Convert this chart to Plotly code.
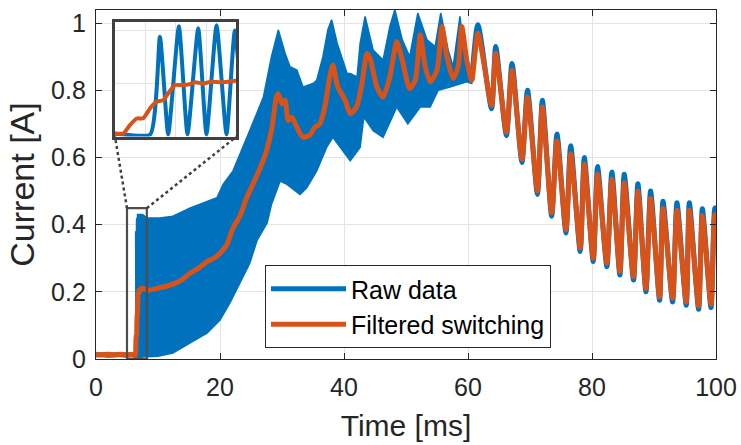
import plotly.graph_objects as go

# ---------------- data ----------------
# Raw data: pre-switching level
raw_pre_t = [0, 1, 2, 3, 4, 5, 6, 6.3, 6.59]
raw_pre_v = [0.012, 0.013, 0.011, 0.012, 0.013, 0.011, 0.012, 0.010, 0.008]

# Raw data: first switching cycles (visible in the inset)
raw_osc_t = [6.67, 6.738, 6.826, 6.897, 6.985, 7.053, 7.136, 7.218, 7.286, 7.36]
raw_osc_v = [0.376, 0.008, 0.416, 0.008, 0.408, 0.008, 0.42, 0.008, 0.40, 0.008]

# Raw data: envelope of the dense switching band
raw_up_t = [6.62, 6.7, 7.5, 8.2, 10.3, 12.4, 15.2, 17.9, 19.5, 20.5, 22.1, 24.8, 27.0,
            28.3, 29.4, 30.5, 31.3, 32.4, 33.4, 35.0, 35.6, 36.6, 37.4, 38.0, 38.9,
            40.5, 41.0, 42.1, 42.6, 43.4, 44.7, 46.3, 47.4, 48.2, 49.4, 50.6, 51.9,
            53.4, 54.7, 55.6, 56.8, 57.6, 58.7, 59.5, 60.3, 61.6]
raw_up_v = [0.10, 0.43, 0.43, 0.42, 0.42, 0.425, 0.45, 0.47, 0.48, 0.52, 0.56, 0.68, 0.78,
            0.90, 0.98, 0.91, 0.87, 0.86, 0.81, 0.82, 0.83, 0.90, 0.98, 1.01, 0.94,
            0.85, 0.85, 0.84, 0.94, 1.02, 0.92, 0.89, 0.99, 1.04, 0.95, 0.90, 1.03,
            0.95, 0.93, 1.03, 0.92, 0.87, 1.02, 0.90, 0.84, 0.99]
raw_lo_t = [6.62, 8.2, 10.0, 12.4, 15.2, 17.9, 20.0, 21.6, 23.2, 24.8, 26.0, 27.6, 28.3,
            29.7, 30.8, 32.9, 34.0, 35.6, 37.2, 38.2, 39.4, 41.0, 42.6, 43.2, 44.7,
            46.3, 48.5, 50.3, 52.3, 53.9, 55.2, 57.1, 59.8, 60.6, 61.6]
raw_lo_v = [0.005, 0.006, 0.008, 0.018, 0.048, 0.077, 0.116, 0.167, 0.226, 0.285, 0.354,
            0.405, 0.46, 0.53, 0.52, 0.49, 0.51, 0.56, 0.63, 0.66, 0.63, 0.59, 0.63,
            0.72, 0.68, 0.66, 0.75, 0.70, 0.75, 0.75, 0.80, 0.81, 0.825, 0.82, 0.95]

# Raw data: slow oscillation at the end (peaks and troughs)
raw_tail_t = [60.6, 61.6, 63.8, 64.47, 66.2, 67.1, 68.7, 69.6, 71.2, 71.99, 73.5, 74.35,
              75.8, 76.56, 78.1, 78.76, 80.2, 80.9, 82.4, 83.2, 84.5, 85.2, 86.7, 87.4,
              88.7, 89.45, 90.9, 91.45, 93.0, 93.7, 95.2, 95.7, 97.2, 97.8, 99.2, 99.8, 100]
raw_tail_v = [0.83, 0.995, 0.745, 0.93, 0.665, 0.88, 0.585, 0.80, 0.49, 0.77, 0.425, 0.67,
              0.375, 0.635, 0.32, 0.60, 0.29, 0.573, 0.275, 0.557, 0.25, 0.55, 0.235, 0.522,
              0.20, 0.50, 0.175, 0.47, 0.17, 0.465, 0.16, 0.465, 0.148, 0.447, 0.153, 0.45, 0.44]

# Filtered switching signal
filt_t = [0, 1, 2, 3, 4, 5, 6, 6.3, 6.368, 6.423, 6.478, 6.533, 6.588, 6.642, 6.697,
          6.738, 6.793, 6.848, 6.903, 6.958, 7.026, 7.095, 7.163, 7.232, 7.286, 7.6,
          8.5, 9.8, 11.0, 12.4, 13.8, 15.2, 16.5, 17.9, 19.0, 20.0, 21.1, 22.1, 23.2,
          24.3, 25.3, 26.5, 27.5, 28.3, 29.1, 29.4, 30.0, 30.5, 31.0, 31.6, 32.4, 33.4,
          34.5, 35.3, 36.1, 36.9, 37.7, 38.2, 39.0, 40.2, 41.0, 42.0, 42.9, 43.7, 44.2,
          45.3, 46.3, 47.4, 48.5, 49.4, 50.6, 51.5, 52.3, 53.1, 53.9, 55.0, 55.8, 56.6,
          57.6, 58.4, 59.0, 59.8, 60.6, 61.6, 63.8, 64.47, 66.2, 67.1, 68.7, 69.6, 71.2,
          71.99, 73.5, 74.35, 75.8, 76.56, 78.1, 78.76, 80.2, 80.9, 82.4, 83.2, 84.5,
          85.2, 86.7, 87.4, 88.7, 89.45, 90.9, 91.45, 93.0, 93.7, 95.2, 95.7, 97.2, 97.8,
          99.2, 99.8, 100]
filt_v = [0.014, 0.013, 0.014, 0.013, 0.014, 0.013, 0.013, 0.011, 0.011, 0.043, 0.068,
          0.069, 0.106, 0.131, 0.137, 0.163, 0.194, 0.194, 0.196, 0.205, 0.200, 0.207,
          0.205, 0.207, 0.21, 0.21, 0.205, 0.21, 0.215, 0.223, 0.235, 0.256, 0.27, 0.29,
          0.30, 0.315, 0.34, 0.39, 0.425, 0.48, 0.52, 0.57, 0.62, 0.68, 0.78, 0.79, 0.76,
          0.77, 0.71, 0.72, 0.69, 0.66, 0.667, 0.69, 0.70, 0.75, 0.84, 0.875, 0.81, 0.77,
          0.73, 0.75, 0.82, 0.91, 0.895, 0.81, 0.78, 0.84, 0.945, 0.89, 0.805, 0.83, 0.965,
          0.87, 0.825, 0.86, 0.99, 0.90, 0.835, 0.87, 0.99, 0.89, 0.83, 0.97, 0.755, 0.91,
          0.675, 0.86, 0.595, 0.78, 0.50, 0.75, 0.435, 0.65, 0.385, 0.61, 0.33, 0.58, 0.30,
          0.55, 0.285, 0.535, 0.26, 0.525, 0.245, 0.50, 0.21, 0.478, 0.185, 0.448, 0.18,
          0.443, 0.17, 0.443, 0.158, 0.427, 0.163, 0.43, 0.425]

# Axes / annotations
x_range = [0, 100]
y_range = [0, 1.039]
x_ticks = [0, 20, 40, 60, 80, 100]
y_ticks = [0, 0.2, 0.4, 0.6, 0.8, 1]
y_ticktext = ["0", "0.2", "0.4", "0.6", "0.8", "1"]
zoom_rect_t = [5.0, 8.2]
zoom_rect_v = [0.0, 0.449]
inset_x_range = [6.3, 7.3]
inset_y_range = [0.0, 0.432]
legend_names = ["Raw data", "Filtered switching"]

# ---------------- style ----------------
BLUE = "#0072BD"
ORANGE = "#D95319"
AX = "#262626"
GRID = "#e3e3e3"
FONT = "Liberation Sans, Arial, Helvetica, sans-serif"
inset_dom_x = [0.0306, 0.2266]
inset_dom_y = [0.6375, 0.9656]

fig = go.Figure()

# dense band of raw data
fig.add_trace(go.Scatter(
    x=raw_up_t + raw_lo_t[::-1], y=raw_up_v + raw_lo_v[::-1],
    fill="toself", fillcolor=BLUE, mode="lines",
    line=dict(color=BLUE, width=1.5), showlegend=False, hoverinfo="skip"))

# raw data line
raw_line_t = raw_pre_t + raw_osc_t + [None] + raw_tail_t
raw_line_v = raw_pre_v + raw_osc_v + [None] + raw_tail_v
fig.add_trace(go.Scatter(
    x=raw_line_t, y=raw_line_v, mode="lines", name=legend_names[0],
    line=dict(color=BLUE, width=5, shape="spline", smoothing=0.7)))

fig.add_trace(go.Scatter(
    x=filt_t, y=filt_v, mode="lines", name=legend_names[1],
    line=dict(color=ORANGE, width=5, shape="spline", smoothing=0.6)))

# inset traces
fig.add_trace(go.Scatter(
    x=raw_pre_t + raw_osc_t, y=raw_pre_v + raw_osc_v, mode="lines",
    xaxis="x2", yaxis="y2", showlegend=False,
    line=dict(color=BLUE, width=4, shape="spline", smoothing=0.5)))
fig.add_trace(go.Scatter(
    x=filt_t, y=filt_v, mode="lines", xaxis="x2", yaxis="y2", showlegend=False,
    line=dict(color=ORANGE, width=4, shape="spline", smoothing=0.5)))

# shapes: zoom rectangle and connector lines
def px(t):
    return (t - x_range[0]) / (x_range[1] - x_range[0])

def py(v):
    return (v - y_range[0]) / (y_range[1] - y_range[0])

shapes = [
    dict(type="rect", xref="x", yref="y", x0=zoom_rect_t[0], x1=zoom_rect_t[1],
         y0=zoom_rect_v[0], y1=zoom_rect_v[1], line=dict(color="#4d4d4d", width=2.2),
         layer="above"),
    dict(type="line", xref="paper", yref="paper",
         x0=px(zoom_rect_t[0]), y0=py(zoom_rect_v[1]), x1=inset_dom_x[0], y1=inset_dom_y[0],
         line=dict(color="#404040", width=2.5, dash="dot"), layer="above"),
    dict(type="line", xref="paper", yref="paper",
         x0=px(zoom_rect_t[1]), y0=py(zoom_rect_v[1]), x1=inset_dom_x[1], y1=inset_dom_y[0],
         line=dict(color="#404040", width=2.5, dash="dot"), layer="above"),
]

fig.update_layout(
    width=741, height=445,
    margin=dict(l=96, r=25, t=10, b=86, autoexpand=False),
    paper_bgcolor="white", plot_bgcolor="white",
    font=dict(family=FONT, size=24, color=AX),
    shapes=shapes,
    xaxis=dict(range=x_range, tickvals=x_ticks, showgrid=True, gridcolor=GRID, gridwidth=1,
               zeroline=False, showline=True, linecolor=AX, linewidth=1.3, mirror="ticks",
               ticks="inside", ticklen=6, tickcolor=AX, tickfont=dict(size=25),
               ticklabelstandoff=6, ticklabeloverflow="allow", automargin=False,
               title=dict(text="Time [ms]", font=dict(size=30), standoff=14)),
    yaxis=dict(range=y_range, tickvals=y_ticks, ticktext=y_ticktext, showgrid=True,
               gridcolor=GRID, gridwidth=1, zeroline=False, showline=True, linecolor=AX,
               linewidth=1.3, mirror="ticks", ticks="inside", ticklen=6, tickcolor=AX,
               tickfont=dict(size=25), ticklabelstandoff=4, ticklabeloverflow="allow",
               automargin=False,
               title=dict(text="Current [A]", font=dict(size=34), standoff=6)),
    xaxis2=dict(domain=inset_dom_x, anchor="y2", range=inset_x_range, tick0=6.3, dtick=0.25,
                showticklabels=False, ticks="", showgrid=True, gridcolor=GRID,
                zeroline=False, showline=True, mirror=True, linecolor="#404040", linewidth=3,
                automargin=False),
    yaxis2=dict(domain=inset_dom_y, anchor="x2", range=inset_y_range, dtick=0.2,
                showticklabels=False, ticks="", showgrid=True, gridcolor=GRID,
                zeroline=False, showline=True, mirror=True, linecolor="#404040", linewidth=3,
                automargin=False),
    legend=dict(x=0.2726, y=0.2693, xanchor="left", yanchor="top",
                bgcolor="white", bordercolor=AX, borderwidth=1,
                font=dict(size=25, color="black"), itemwidth=75, tracegroupgap=0),
    showlegend=True,
)

# remove the default page margin so the 741x445 figure fills the window exactly
fig.write_html("out.html", config={"displayModeBar": False},
               post_script="document.body.style.margin='0';document.body.style.overflow='hidden';")
